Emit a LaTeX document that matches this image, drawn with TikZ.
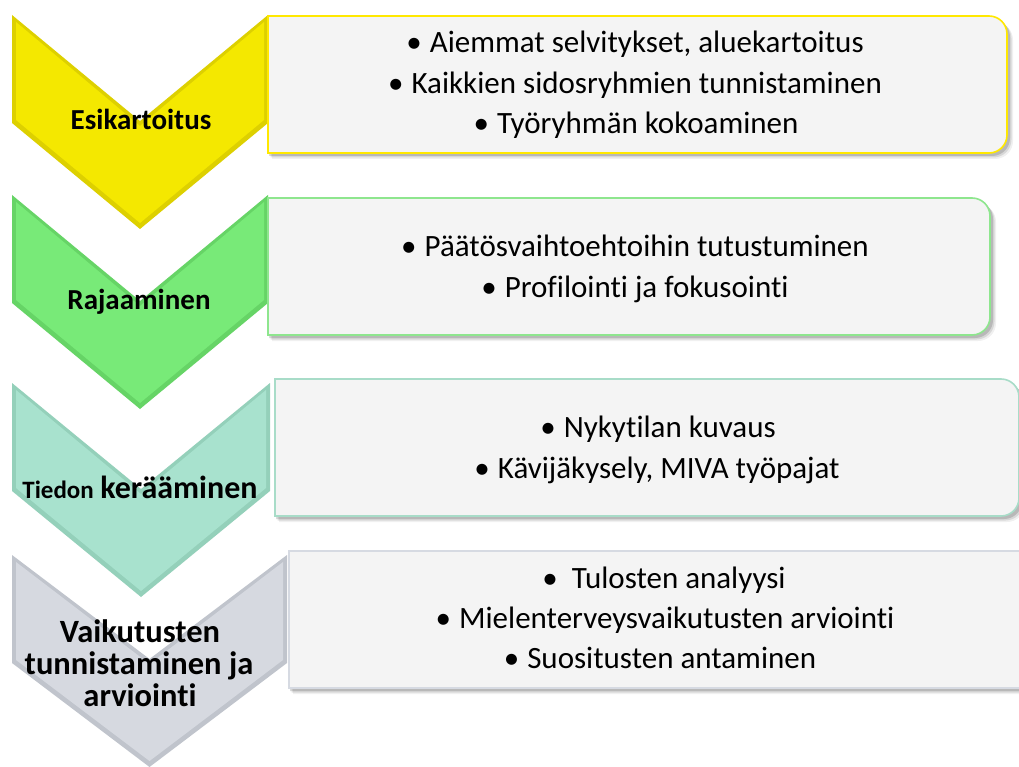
\documentclass[tikz,border=0pt]{standalone}
\usepackage{fontspec}
\setmainfont[Ligatures=NoCommon]{Carlito}
\definecolor{yel}{HTML}{F4E800}
\definecolor{yeld}{HTML}{DDD000}
\definecolor{yelb}{HTML}{FFE800}
\definecolor{grn}{HTML}{78EA78}
\definecolor{grnd}{HTML}{66D466}
\definecolor{grnb}{HTML}{8EE68E}
\definecolor{tea}{HTML}{A8E2CE}
\definecolor{tead}{HTML}{94D0BA}
\definecolor{teab}{HTML}{A8DCC8}
\definecolor{gry}{HTML}{D6D9E0}
\definecolor{gryd}{HTML}{C0C4CC}
\definecolor{gryb}{HTML}{D6DAE2}
\definecolor{boxfill}{HTML}{F4F4F4}
\tikzset{
  boxtext/.style={anchor=base, font=\fontsize{31}{36}\selectfont, text=black, inner sep=0pt},
  chevtext/.style={anchor=base, font=\bfseries\fontsize{29}{31}\selectfont, text=black, inner sep=0pt, align=center},
  chevbig/.style={chevtext, font=\bfseries\fontsize{32.5}{31}\selectfont},
}
\newcommand\bul{•\hspace{8pt}}
% chevron: x0, x1, ytop, sideheight, depth, edgecolor, facecolor
\newcommand\mychev[7]{%
  \pgfmathsetmacro\xm{(#1+#2)/2}%
  \fill[#6] (#1,-#3) -- (\xm,{-(#3+#5)}) -- (#2,-#3) -- (#2,{-(#3+#4)}) -- (\xm,{-(#3+#4+#5)}) -- (#1,{-(#3+#4)}) -- cycle;
  \fill[#7] ({#1+4},{-(#3+7)}) -- (\xm,{-(#3+#5+5)}) -- ({#2-4},{-(#3+7)}) -- ({#2-4},{-(#3+#4-3)}) -- (\xm,{-(#3+#4+#5-6)}) -- ({#1+4},{-(#3+#4-3)}) -- cycle;
}
% text box: x0, ytop, x1, ybottom, bordercolor
\newcommand\mybox[5]{%
  \foreach \s/\o in {6/0.06,4.5/0.1,3/0.14} {
    \fill[black, opacity=\o] ({#1+\s-2},{-#2-\s}) -- ({#3-18+\s},{-#2-\s}) arc[start angle=90,end angle=0,radius=18] -- ({#3+\s},{-#4+18-\s}) arc[start angle=0,end angle=-90,radius=18] -- ({#1+\s-2},{-#4-\s}) -- cycle;
  }
  \draw[#5, line width=1.6pt, fill=boxfill] (#1,-#2) -- ({#3-18},-#2) arc[start angle=90,end angle=0,radius=18] -- (#3,{-#4+18}) arc[start angle=0,end angle=-90,radius=18] -- (#1,-#4) -- cycle;
}
\begin{document}
\begin{tikzpicture}[x=1pt,y=1pt]
\clip (0,0) rectangle (1019,-767);
\fill[white] (0,0) rectangle (1019,-767);
% chevrons and boxes
\mychev{12}{268}{15}{108}{106}{yeld}{yel}
\mybox{268}{16}{1007}{153}{yelb}
\mychev{12}{268}{195}{108}{106}{grnd}{grn}
\mybox{268}{198}{990}{335}{grnb}
\mychev{12}{270}{383}{108}{106}{tead}{tea}
\mybox{275}{379}{1019}{516}{teab}
\mychev{12}{287}{555}{108}{104}{gryd}{gry}
\mybox{289}{551}{1040}{688}{gryb}
% chevron labels
\node[chevtext] (c1) at (141,-130) {Esikartoitus};
\node[chevtext] (c2) at (139,-309) {Rajaaminen};
\node[chevtext] (c3) at (140,-498) {{\fontsize{25}{26}\selectfont Tiedon} {\fontsize{32}{32}\selectfont kerääminen}};
\node[chevbig] (c4a) at (140,-642) {Vaikutusten};
\node[chevbig] (c4b) at (139,-674) {tunnistaminen ja};
\node[chevbig] (c4c) at (140,-706) {arviointi};
% box texts
\node[boxtext] (t11) at (635,-53) {\bul Aiemmat selvitykset, aluekartoitus};
\node[boxtext] (t12) at (635,-94) {\bul Kaikkien sidosryhmien tunnistaminen};
\node[boxtext] (t13) at (636,-134) {\bul Työryhmän kokoaminen};
\node[boxtext] (t21) at (635,-257) {\bul Päätösvaihtoehtoihin tutustuminen};
\node[boxtext] (t22) at (635,-297) {\bul Profilointi ja fokusointi};
\node[boxtext] (t31) at (658,-437) {\bul Nykytilan kuvaus};
\node[boxtext] (t32) at (657,-478) {\bul Kävijäkysely, MIVA työpajat};
\node[boxtext] (t41) at (664,-588) {\bul\hspace{6pt}Tulosten analyysi};
\node[boxtext] (t42) at (665,-628) {\bul Mielenterveysvaikutusten arviointi};
\node[boxtext] (t43) at (660,-668) {\bul Suositusten antaminen};
\end{tikzpicture}
\end{document}
